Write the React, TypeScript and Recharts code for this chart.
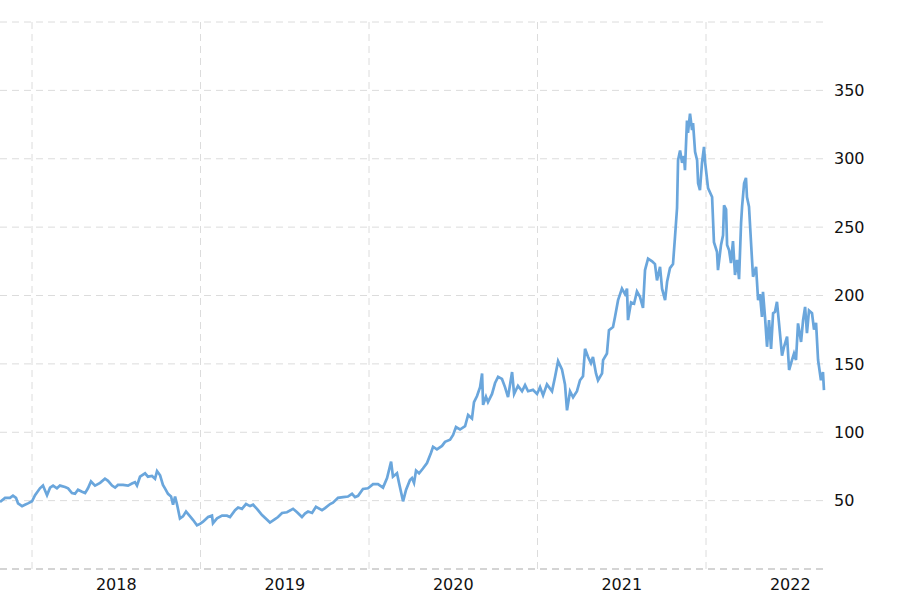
import React from 'react';
import { LineChart, Line, XAxis, YAxis, CartesianGrid, ReferenceLine } from 'recharts';

// time as fractional years, price in USD
const years = [
  2017.810, 2017.840, 2017.869, 2017.887, 2017.905, 2017.917, 2017.941, 2017.958, 2017.976, 2018.000,
  2018.018, 2018.047, 2018.065, 2018.089, 2018.107, 2018.125, 2018.148, 2018.166, 2018.196, 2018.214,
  2018.237, 2018.255, 2018.273, 2018.297, 2018.315, 2018.332, 2018.350, 2018.374, 2018.404, 2018.433,
  2018.451, 2018.475, 2018.493, 2018.510, 2018.540, 2018.570, 2018.593, 2018.611, 2018.623, 2018.641,
  2018.671, 2018.688, 2018.712, 2018.730, 2018.742, 2018.760, 2018.777, 2018.789, 2018.807, 2018.825,
  2018.837, 2018.849, 2018.861, 2018.878, 2018.896, 2018.914, 2018.938, 2018.955, 2018.979, 2018.997,
  2019.015, 2019.045, 2019.068, 2019.074, 2019.098, 2019.128, 2019.157, 2019.175, 2019.205, 2019.223,
  2019.246, 2019.270, 2019.294, 2019.312, 2019.335, 2019.365, 2019.395, 2019.412, 2019.442, 2019.460,
  2019.484, 2019.513, 2019.549, 2019.573, 2019.602, 2019.620, 2019.638, 2019.662, 2019.685, 2019.721,
  2019.739, 2019.769, 2019.786, 2019.816, 2019.846, 2019.875, 2019.899, 2019.917, 2019.935, 2019.964,
  2019.994, 2020.024, 2020.053, 2020.083, 2020.107, 2020.131, 2020.142, 2020.166, 2020.178, 2020.202,
  2020.220, 2020.243, 2020.255, 2020.267, 2020.279, 2020.297, 2020.320, 2020.344, 2020.368, 2020.380,
  2020.403, 2020.433, 2020.451, 2020.481, 2020.499, 2020.516, 2020.540, 2020.570, 2020.588, 2020.611,
  2020.623, 2020.641, 2020.659, 2020.671, 2020.677, 2020.694, 2020.706, 2020.730, 2020.748, 2020.766,
  2020.789, 2020.807, 2020.825, 2020.849, 2020.861, 2020.884, 2020.908, 2020.926, 2020.944, 2020.973,
  2020.997, 2021.015, 2021.033, 2021.056, 2021.086, 2021.104, 2021.122, 2021.145, 2021.163, 2021.175,
  2021.193, 2021.211, 2021.234, 2021.252, 2021.270, 2021.282, 2021.300, 2021.317, 2021.329, 2021.347,
  2021.359, 2021.383, 2021.389, 2021.412, 2021.424, 2021.448, 2021.460, 2021.478, 2021.501, 2021.519,
  2021.531, 2021.537, 2021.555, 2021.573, 2021.590, 2021.608, 2021.626, 2021.638, 2021.656, 2021.680,
  2021.697, 2021.709, 2021.727, 2021.739, 2021.757, 2021.769, 2021.786, 2021.804, 2021.816, 2021.828,
  2021.834, 2021.846, 2021.858, 2021.869, 2021.875, 2021.887, 2021.893, 2021.905, 2021.917, 2021.923,
  2021.935, 2021.947, 2021.953, 2021.964, 2021.976, 2021.988, 2021.994, 2022.012, 2022.036, 2022.047,
  2022.065, 2022.071, 2022.089, 2022.101, 2022.107, 2022.119, 2022.125, 2022.137, 2022.148, 2022.160,
  2022.172, 2022.184, 2022.196, 2022.208, 2022.214, 2022.226, 2022.237, 2022.243, 2022.255, 2022.273,
  2022.279, 2022.297, 2022.309, 2022.320, 2022.332, 2022.338, 2022.350, 2022.362, 2022.374, 2022.386,
  2022.398, 2022.409, 2022.421, 2022.433, 2022.451, 2022.463, 2022.481, 2022.493, 2022.510, 2022.522,
  2022.534, 2022.546, 2022.564, 2022.576, 2022.588, 2022.599, 2022.611, 2022.629, 2022.641, 2022.653,
  2022.665, 2022.682, 2022.694, 2022.700,
];

const prices = [
  49, 52, 52, 53.6, 52, 48, 46, 47, 48, 49.5,
  54, 59, 61, 54, 59.5, 61, 59, 61, 60, 59,
  55.5, 55, 58, 56.5, 55.5, 59, 64, 61, 63, 66,
  64.5, 61, 59.5, 61.5, 61.5, 61, 62.5, 63.5, 61, 67.5,
  70, 67.5, 68, 66, 71.6, 68.5, 61.5, 59, 55, 53,
  47, 53, 47, 37, 38.5, 42, 38.5, 36, 32, 33,
  34.6, 38, 39, 33.5, 37, 39, 39, 38, 43, 45,
  44, 47.5, 46, 47, 44, 39.5, 36, 34, 36.5, 38,
  41, 41.5, 44, 41.5, 38, 40.5, 42, 41, 45.5, 43,
  44.5, 47.5, 48.5, 52, 52.5, 53, 55, 52.5, 53.5, 58.5,
  59, 62, 62, 59.5, 66.5, 78.5, 67.5, 70, 63, 49.5,
  58, 65, 66.5, 63, 72, 70, 73.5, 77.5, 85, 89.4,
  87.5, 90, 93, 94.5, 98, 103.8, 102, 104.4, 112.6, 110,
  122, 126.5, 133, 143, 120, 126, 122, 128, 136, 140.5,
  139, 133, 125.7, 144, 128, 134, 130, 134.5, 130, 131,
  128, 133, 127, 135, 130, 140.5, 152, 146, 135, 116,
  130, 125.6, 130, 138, 141, 161, 155, 150.5, 155, 143,
  138, 143, 152.8, 157.6, 174.7, 177, 184.4, 196.6, 205, 201,
  205, 182, 195, 194, 203, 199, 191, 218.6, 227, 225,
  223, 211, 221, 205, 196.6, 210, 220, 223, 243, 264,
  299, 306, 297, 302, 291.7, 328, 319, 333, 321, 326,
  305, 299, 282, 277, 297, 308.7, 298, 278.5, 272, 239,
  232, 218.6, 237, 244, 266, 263, 237, 233, 223.7, 239.8,
  215, 226, 212, 253, 265, 282, 286, 272, 265, 226,
  213.7, 221, 196.6, 201, 184.4, 202.7, 184.4, 162.5, 182, 161,
  187, 188, 195.4, 180, 156, 162.5, 170, 145.5, 152.8, 157.6,
  152.8, 179.6, 166, 182, 191.7, 172.5, 189, 187, 175, 180,
  152.8, 138, 144, 130.8,
];

const yearMarks = [2018, 2019, 2020, 2021, 2022];
const yearLabelTicks = [2018.5, 2019.5, 2020.5, 2021.5, 2022.5];
const priceTicks = [0, 50, 100, 150, 200, 250, 300, 350, 400];

const data = years.map((t, i) => ({ t, price: prices[i] }));

const gridColor = '#dcdcdc';
const dash = '7 5';

const App = () => {
  return (
    <div style={{ position: 'absolute', left: 0, top: 0, width: 924, height: 595, background: '#fff' }}>
      <LineChart
        width={924}
        height={595}
        data={data}
        margin={{ top: 22, right: 0, bottom: 0, left: 0 }}
        style={{ fontFamily: '"DejaVu Sans", Verdana, sans-serif' }}
      >
        <CartesianGrid vertical={false} stroke={gridColor} strokeDasharray={dash} />
        {yearMarks.map((y) => (
          <ReferenceLine key={y} x={y} stroke={gridColor} strokeDasharray={dash} />
        ))}
        <XAxis
          dataKey="t"
          type="number"
          domain={[2017.81, 2022.712]}
          allowDataOverflow
          ticks={yearLabelTicks}
          tickFormatter={(v) => String(Math.floor(v))}
          axisLine={{ stroke: '#bbbbbb', strokeDasharray: dash }}
          tickLine={false}
          tickMargin={4}
          height={26}
          tick={{ fill: '#111', fontSize: 16 }}
        />
        <YAxis
          orientation="right"
          type="number"
          domain={[0, 400]}
          ticks={priceTicks}
          tickFormatter={(v) => (v === 0 || v === 400 ? '' : String(v))}
          axisLine={false}
          tickLine={false}
          width={98}
          tick={{ fill: '#111', fontSize: 16 }}
        />
        <Line
          type="linear"
          dataKey="price"
          stroke="#6aa6dc"
          strokeWidth={2.7}
          dot={false}
          isAnimationActive={false}
        />
      </LineChart>
    </div>
  );
};

export default App;
